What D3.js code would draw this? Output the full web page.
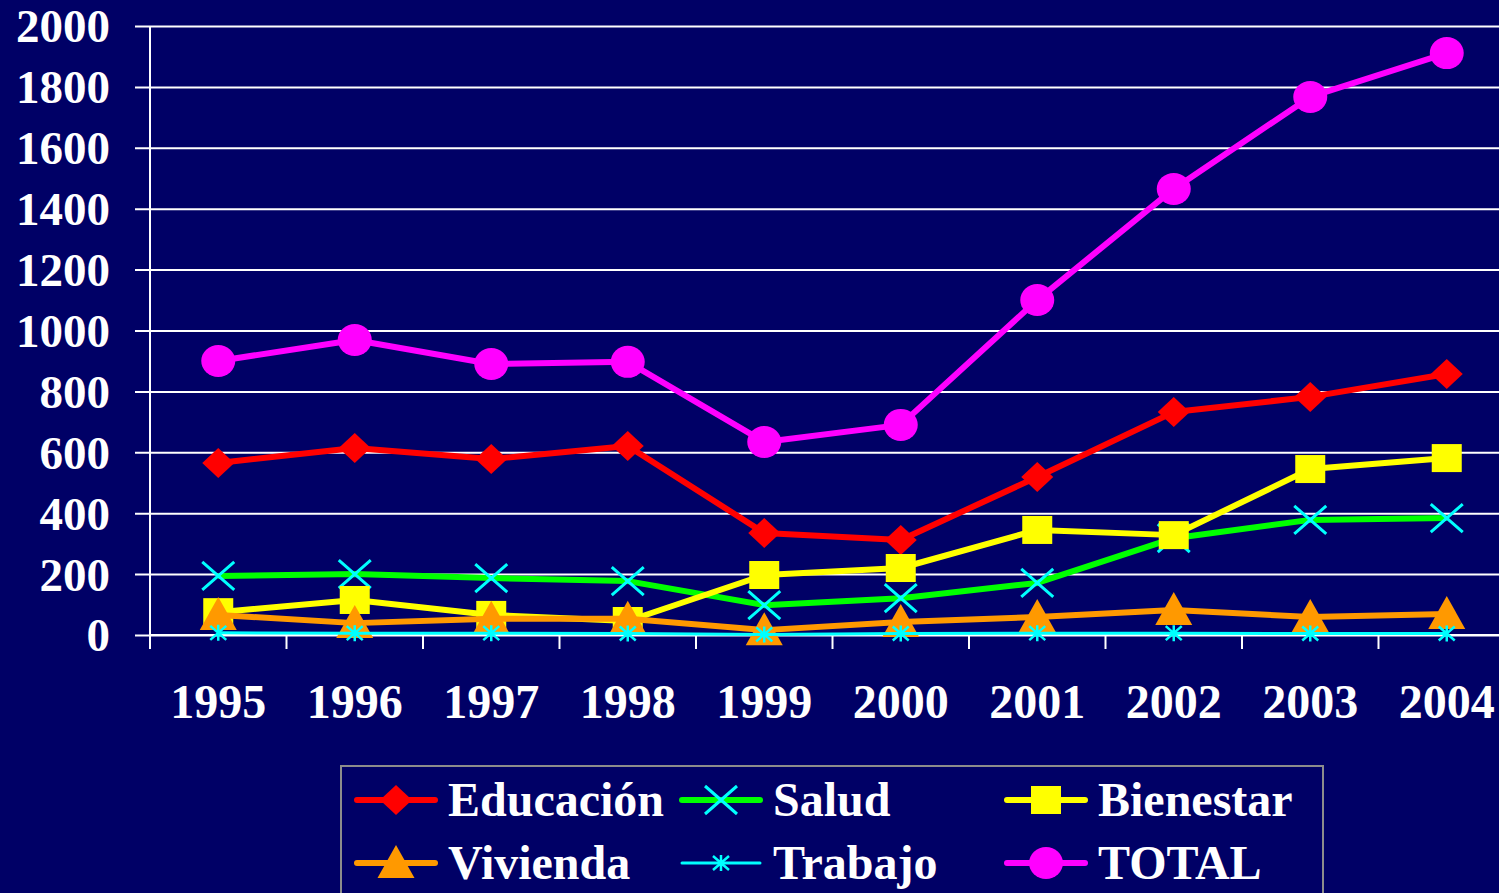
<!DOCTYPE html>
<html>
<head>
<meta charset="utf-8">
<script src="https://cdn.jsdelivr.net/npm/d3@7"></script>
<style>
  body { margin: 0; background: #000066; overflow: hidden; }
  text { font-family: "Liberation Serif", "Times New Roman", serif; font-weight: bold; fill: #fff; }
</style>
</head>
<body>
<svg id="chart"></svg>
<script>
// data
const years = ["1995", "1996", "1997", "1998", "1999", "2000", "2001", "2002", "2003", "2004"];
const educacion = [565, 614, 578, 621, 335, 312, 519, 732, 782, 857];
const salud = [194, 200, 187, 177, 98, 121, 171, 318, 378, 384];
const bienestar = [75, 115, 66, 46, 197, 220, 345, 328, 545, 581];
const vivienda = [66, 39, 53, 53, 16, 43, 59, 82, 59, 69];
const trabajo = [7, 6, 6, 5, 2, 5, 6, 6, 5, 5];
const total = [900, 969, 890, 897, 634, 690, 1100, 1465, 1767, 1911];
const yTicks = [0, 200, 400, 600, 800, 1000, 1200, 1400, 1600, 1800, 2000];

const series = [
  { name: "Educación", values: educacion, color: "#ff0000", marker: "diamond", width: 6 },
  { name: "Salud", values: salud, color: "#00ff00", marker: "x", width: 6 },
  { name: "Bienestar", values: bienestar, color: "#ffff00", marker: "square", width: 6 },
  { name: "Vivienda", values: vivienda, color: "#ff9900", marker: "triangle", width: 6 },
  { name: "Trabajo", values: trabajo, color: "#00ffff", marker: "star", width: 3 },
  { name: "TOTAL", values: total, color: "#ff00ff", marker: "circle", width: 6 }
];

const W = 1499, H = 893;
const svg = d3.select("#chart").attr("width", W).attr("height", H);

svg.append("rect").attr("width", W).attr("height", H).attr("fill", "#000066");

const x = d3.scaleBand().domain(years).range([150, 1515]);
const y = d3.scaleLinear().domain([0, 2000]).range([635, 26]);
const cx = d => x(d) + x.bandwidth() / 2;

// gridlines + y axis
svg.append("g")
  .attr("transform", "translate(150,0)")
  .call(d3.axisLeft(y).tickValues(yTicks).tickSize(-1400).tickSizeOuter(0).tickFormat(d3.format("d")))
  .call(g => g.select(".domain").remove())
  .call(g => g.selectAll(".tick line").attr("stroke", "#fff").attr("stroke-width", 2).attr("x1", -15))
  .call(g => g.selectAll(".tick text").attr("x", -40).attr("dy", "0.34em")
    .style("font-size", "47px").attr("fill", "#fff"));

svg.append("line").attr("x1", 150).attr("x2", 150).attr("y1", 26).attr("y2", 649)
  .attr("stroke", "#fff").attr("stroke-width", 2);

// x axis
const xa = svg.append("g").attr("transform", "translate(0,635)");
xa.append("line").attr("x1", 150).attr("x2", W).attr("stroke", "#fff").attr("stroke-width", 2);
xa.selectAll("line.tk").data(years).enter().append("line").attr("class", "tk")
  .attr("x1", d => x(d)).attr("x2", d => x(d)).attr("y1", 0).attr("y2", 14)
  .attr("stroke", "#fff").attr("stroke-width", 2);
xa.selectAll("text").data(years).enter().append("text")
  .attr("x", d => cx(d)).attr("y", 83).attr("text-anchor", "middle")
  .style("font-size", "48px").text(d => d);

// marker shapes
function drawMarker(g, type, color) {
  if (type === "diamond") {
    g.append("path").attr("d", "M0,-15L16,0L0,15L-16,0Z").attr("fill", color);
  } else if (type === "square") {
    g.append("rect").attr("x", -15).attr("y", -14).attr("width", 30).attr("height", 28).attr("fill", color);
  } else if (type === "triangle") {
    g.append("path").attr("d", "M0,-18L18.5,15L-18.5,15Z").attr("fill", color);
  } else if (type === "circle") {
    g.append("ellipse").attr("rx", 17).attr("ry", 16).attr("fill", color);
  } else if (type === "x") {
    g.append("path").attr("d", "M-16,-14L16,14M-16,14L16,-14")
      .attr("stroke", "#00ffff").attr("stroke-width", 3).attr("fill", "none");
  } else if (type === "star") {
    g.append("path").attr("d", "M-8,-7L8,7M-8,7L8,-7M0,-8L0,8")
      .attr("stroke", "#00ffff").attr("stroke-width", 2.5).attr("fill", "none");
  }
}

const line = d3.line().x((d, i) => cx(years[i])).y(d => y(d));

series.forEach(s => {
  const g = svg.append("g");
  g.append("path").datum(s.values).attr("d", line)
    .attr("fill", "none").attr("stroke", s.color).attr("stroke-width", s.width)
    .attr("stroke-linejoin", "round");
  g.selectAll("g.m").data(s.values).enter().append("g").attr("class", "m")
    .attr("transform", (d, i) => `translate(${cx(years[i])},${y(d)})`)
    .each(function () { drawMarker(d3.select(this), s.marker, s.color); });
});

// legend
const legend = svg.append("g");
legend.append("rect").attr("x", 341).attr("y", 766).attr("width", 982).attr("height", 140)
  .attr("fill", "#000066").attr("stroke", "#8c8c8c").attr("stroke-width", 2);

const colX = [355, 680, 1005];
const rowY = [800, 863];
series.forEach((s, i) => {
  const lx = colX[i % 3], ly = rowY[Math.floor(i / 3)];
  const item = legend.append("g").attr("transform", `translate(${lx},${ly})`);
  item.append("line").attr("x1", 2).attr("x2", 80).attr("stroke", s.color)
    .attr("stroke-width", s.width).attr("stroke-linecap", "round");
  drawMarker(item.append("g").attr("transform", "translate(41,0)"), s.marker, s.color);
  item.append("text").attr("x", 93).attr("y", 16).style("font-size", "48px").text(s.name);
});
</script>
</body>
</html>
